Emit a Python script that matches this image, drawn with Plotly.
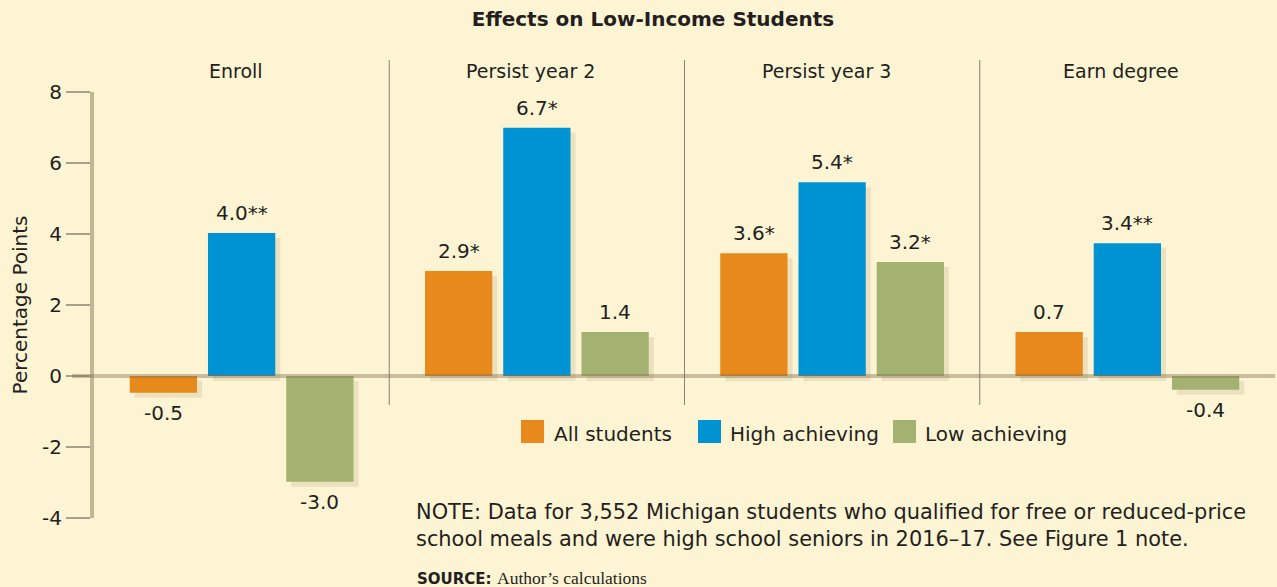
import plotly.graph_objects as go

# ---------------- data ----------------
groups = ["Enroll", "Persist year 2", "Persist year 3", "Earn degree"]
series_names = ["All students", "High achieving", "Low achieving"]
# bar heights as drawn in the picture (percentage points)
all_students = [-0.47, 2.96, 3.46, 1.24]
high_achieving = [4.03, 6.99, 5.46, 3.74]
low_achieving = [-2.98, 1.24, 3.21, -0.39]
# printed value labels
all_labels = ["-0.5", "2.9*", "3.6*", "0.7"]
high_labels = ["4.0**", "6.7*", "5.4*", "3.4**"]
low_labels = ["-3.0", "1.4", "3.2*", "-0.4"]
y_ticks = [-4, -2, 0, 2, 4, 6, 8]

colors = ["#e8891b", "#0093d3", "#a3b271"]
BG = "#fdf4d3"
TXT = "#231f20"
FONT = "DejaVu Sans"

W, H = 1277, 587
L, R, T, B = 94, 2, 92, 69
PW, PH = W - L - R, H - T - B
Y0, Y1 = -4, 8


def px_x(px):
    return (px - L) / PW


def px_y(py):
    return (H - B - py) / PH


values = [all_students, high_achieving, low_achieving]
labels = [all_labels, high_labels, low_labels]

cat_px = PW / len(groups)
unit_px = PH / (Y1 - Y0)
bargap, bargroupgap = 0.205, 0.14
slot = cat_px * (1 - bargap) / 3

fig = go.Figure()
# soft drop shadows (drawn on an offset, hidden subplot underneath)
for name, vals in zip(series_names, values):
    fig.add_trace(go.Bar(x=groups, y=vals, name=name + " shadow", xaxis="x", yaxis="y",
                         marker=dict(color="rgba(150,128,80,0.16)", line=dict(width=0)),
                         showlegend=False, hoverinfo="skip"))
# real bars
for name, vals, col in zip(series_names, values, colors):
    fig.add_trace(go.Bar(x=groups, y=vals, name=name, xaxis="x2", yaxis="y2",
                         marker=dict(color=col, line=dict(width=0)),
                         showlegend=False, hoverinfo="skip"))

annotations = []
for i, (vals, labs) in enumerate(zip(values, labels)):
    for g, v, lab in zip(groups, vals, labs):
        pos = v >= 0
        annotations.append(dict(
            x=g, y=v, xref="x2", yref="y2", text=lab, showarrow=False,
            xshift=(i - 1) * slot, yshift=6 if pos else -6,
            yanchor="bottom" if pos else "top",
            font=dict(family=FONT, size=20, color=TXT)))

# group headers
for g in groups:
    annotations.append(dict(x=g, y=px_y(71), xref="x2", yref="paper", text=g, showarrow=False,
                            yanchor="middle", xshift=-6, font=dict(family=FONT, size=19, color=TXT)))

# legend (manual, larger squares)
shapes = []
leg_sq = [521, 698, 893]
leg_txt = [552, 728, 923]
for name, col, sx, tx in zip(series_names, colors, leg_sq, leg_txt):
    shapes.append(dict(type="rect", xref="paper", yref="paper",
                       x0=px_x(sx), x1=px_x(sx + 23), y0=px_y(443), y1=px_y(420),
                       fillcolor=col, line=dict(width=0)))
    annotations.append(dict(x=px_x(tx), y=px_y(434), xref="paper", yref="paper", text=name,
                            showarrow=False, xanchor="left", yanchor="middle",
                            font=dict(family=FONT, size=20, color=TXT)))

# note and source
note_lines = ["NOTE: Data for 3,552 Michigan students who qualified for free or reduced-price",
              "school meals and were high school seniors in 2016–17. See Figure 1 note."]
for line, py in zip(note_lines, [512, 539]):
    annotations.append(dict(
        x=px_x(414), y=px_y(py), xref="paper", yref="paper", showarrow=False,
        xanchor="left", yanchor="middle", align="left", text=line,
        font=dict(family=FONT, size=20.9, color=TXT)))
annotations.append(dict(
    x=px_x(415), y=px_y(579), xref="paper", yref="paper", showarrow=False,
    xanchor="left", yanchor="middle", text="<b>SOURCE:</b>",
    font=dict(family=FONT, size=15, color=TXT)))
annotations.append(dict(
    x=px_x(495), y=px_y(578), xref="paper", yref="paper", showarrow=False,
    xanchor="left", yanchor="middle", text="Author’s calculations",
    font=dict(family="Liberation Serif", size=17.5, color=TXT)))

# separators between groups
for k in range(1, len(groups)):
    shapes.append(dict(type="line", xref="x2", yref="paper", x0=k - 0.5, x1=k - 0.5,
                       y0=px_y(405), y1=px_y(60), line=dict(color="#8a8070", width=1)))

# zero line (drawn above bars, semi-transparent)
shapes.append(dict(type="line", xref="paper", yref="y2", x0=px_x(72), x1=1.0, y0=0, y1=0,
                   layer="above", line=dict(color="rgba(130,112,80,0.42)", width=4)))

dx = 5 / cat_px
dy = 5 / unit_px
xr = [-0.5, len(groups) - 0.5]

fig.update_layout(
    width=W, height=H,
    margin=dict(l=L, r=R, t=T, b=B),
    paper_bgcolor=BG, plot_bgcolor=BG,
    barmode="group", bargap=bargap, bargroupgap=bargroupgap,
    title=dict(text="<b>Effects on Low-Income Students</b>", x=653 / W, xanchor="center",
               y=1 - 19 / H, yanchor="middle", xref="container", yref="container",
               font=dict(family=FONT, size=20, color=TXT)),
    xaxis=dict(range=[xr[0] - dx, xr[1] - dx], visible=False, fixedrange=True),
    yaxis=dict(range=[Y0 + dy, Y1 + dy], visible=False, fixedrange=True),
    xaxis2=dict(range=xr, overlaying="x", visible=False, fixedrange=True),
    yaxis2=dict(range=[Y0, Y1], overlaying="y", side="left",
                tickvals=y_ticks, ticktext=[str(t) for t in y_ticks],
                showgrid=False, zeroline=False, showline=True,
                linecolor="rgba(150,132,95,0.55)", linewidth=4,
                ticks="outside", ticklen=24, tickwidth=1.5, tickcolor="#a8a08c",
                tickfont=dict(family=FONT, size=20, color=TXT),
                title=dict(text="Percentage Points", standoff=10,
                           font=dict(family=FONT, size=20, color=TXT))),
    annotations=annotations, shapes=shapes,
    font=dict(family=FONT, color=TXT),
)

fig.write_html("out.html")
